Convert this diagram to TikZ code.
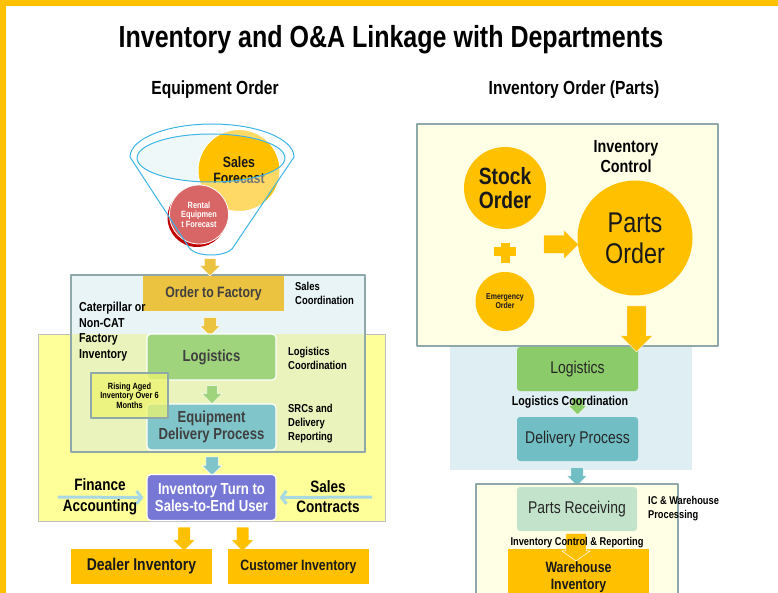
\documentclass[tikz,border=0pt]{standalone}
\usepackage{fontspec}
\setmainfont{Liberation Sans}[FakeStretch=0.82]
\usetikzlibrary{shapes.arrows,arrows.meta,positioning}
\definecolor{gold}{HTML}{FFC000}
\definecolor{ordgold}{HTML}{EBC340}
\definecolor{lgreen}{HTML}{9FD37C}
\definecolor{tealL}{HTML}{7FC5CA}
\definecolor{purp}{HTML}{7777D5}
\definecolor{framegray}{HTML}{8FA9AB}
\definecolor{cyanbg}{HTML}{E8F4F5}
\definecolor{ylwbg}{HTML}{FFFF99}
\definecolor{limebg}{HTML}{EAF3BC}
\definecolor{agedbg}{HTML}{EEF46E}
\definecolor{paleyl}{HTML}{FFFFE6}
\definecolor{paleblue}{HTML}{DEEEF2}
\definecolor{rgreen}{HTML}{8CCB69}
\definecolor{rteal}{HTML}{71BFC5}
\definecolor{mint}{HTML}{C3E3CB}
\definecolor{funnelblue}{HTML}{3DB5E6}
\definecolor{funnelin}{HTML}{EEF8F9}
\definecolor{rentred}{HTML}{D96666}
\definecolor{darkred}{HTML}{C00000}
\definecolor{finblue}{HTML}{A8D8E2}
\definecolor{boxtext}{HTML}{404040}
\newcommand{\fsz}[2]{\fontsize{#1}{#2}\selectfont}
\newcommand{\funnelpath}{(130,157) arc[start angle=180,end angle=360,x radius=82,y radius=33] -- (232,249) .. controls (224,257) and (198,257) .. (190,249) -- cycle}
\begin{document}
\begin{tikzpicture}[x=1pt,y=-1pt,line join=round]
	\tikzset{lbl/.style={inner sep=0pt,align=center},
		note/.style={inner sep=0pt,anchor=west,align=left,font=\fsz{11.5}{14}\bfseries},
		box/.style={rectangle,inner sep=0pt,text=boxtext,font=\fsz{15}{17}\bfseries,minimum width=141,minimum height=35,align=center},
		rbox/.style={rectangle,rounded corners=4pt,draw=white,line width=1.2pt,inner sep=0pt,minimum width=129,minimum height=46,text=boxtext,font=\fsz{16}{17}\bfseries,align=center},
		rrbox/.style={rectangle,rounded corners=3pt,inner sep=0pt,minimum width=121,minimum height=44,text=black!85,font=\fsz{17}{20}},
		disc/.style={circle,fill=gold,inner sep=0pt,align=center,text=black!90},
		side/.style={inner sep=0pt,align=center,font=\fsz{16.5}{20.7}\bfseries},
		blk/.style args={#1/#2/#3}{single arrow,draw=white,line width=0.5pt,inner sep={#3*0.5},minimum height=#1,minimum width=#2,single arrow head extend={(#2-#3)*0.5},shape border rotate=270},
		inarrow/.style={finblue,line width=3pt,-{Straight Barb[length=5pt,width=13pt]},shorten >=3pt}}
	\useasboundingbox (0,0) rectangle (778,593);
	\fill[white] (0,0) rectangle (778,593);
	\fill[gold] (0,0) rectangle (778,6);
	\fill[gold] (0,0) rectangle (6,593);
	\node[lbl,anchor=base,font=\fsz{30.5}{36}\bfseries] (ttl) at (391,47.7) {Inventory and O\&A Linkage with Departments};
	\node[lbl,anchor=base,font=\fsz{19}{22}\bfseries] (subL) at (215,95) {Equipment Order};
	\node[lbl,anchor=base,font=\fsz{19}{22}\bfseries] (subR) at (574,95) {Inventory Order (Parts)};
	% funnel
	\fill[funnelin] (211,158) ellipse[x radius=74,y radius=24];
	\node[disc,draw=white,line width=1pt,minimum size=82,font=\fsz{15}{16}\bfseries] (salesfc) at (239,170.5) {Sales\\Forecast};
	\fill[white,fill opacity=0.4,even odd rule] \funnelpath (211,158) ellipse[x radius=74,y radius=24];
	\fill[darkred] (197,217.5) circle[radius=29.5];
	\node[circle,fill=rentred,draw=white,line width=0.8pt,minimum size=59,inner sep=0pt,align=center,text=white,font=\fsz{9}{9.5}\bfseries] (rentfc) at (199,214.5) {Rental\\Equipmen\\t Forecast};
	\draw[funnelblue,line width=1pt] \funnelpath;
	\draw[funnelblue,line width=1pt] (211,158) ellipse[x radius=74,y radius=24];
	% left zones
	\fill[cyanbg] (71,275) rectangle (365,452);
	\draw[fill=ylwbg,draw=black!25,line width=1pt] (38,334) rectangle (385,521);
	\fill[limebg] (71,334) rectangle (365,452);
	\draw[framegray,line width=2pt] (71,275) rectangle (365,452);
	\node[blk=15/20/11,fill=ordgold] (a1) at (210,264.5) {};
	\node[box,fill=ordgold] (order) at (213.5,293.5) {Order to Factory};
	\node[note] (salesco) at (295,293) {Sales\\Coordination};
	\node[lbl,anchor=west,align=left,font=\fsz{13}{15.7}\bfseries] (catl) at (79,331.5) {Caterpillar or\\Non-CAT\\Factory\\Inventory};
	\node[blk=17/20/12,fill=ordgold] (a2) at (210,323.5) {};
	\node[rbox,fill=lgreen] (logL) at (211.5,357) {Logistics};
	\node[note,font=\fsz{11.5}{13.5}\bfseries] (logco) at (288,358.4) {Logistics\\Coordination};
	\node[blk=18/20/10,fill=lgreen] (a3) at (212,392) {};
	\node[rbox,fill=tealL] (delivL) at (211.5,427) {Equipment\\Delivery Process};
	\node[note] (srcs) at (288,424) {SRCs and\\Delivery\\Reporting};
	\node[draw=framegray,line width=2pt,fill=agedbg,fill opacity=0.75,text opacity=1,minimum width=77,minimum height=45,inner sep=0pt,align=center,font=\fsz{9}{9.5}\bfseries] (aged) at (129.5,395.5) {Rising Aged\\Inventory Over 6\\Months};
	\node[blk=18/20/12,fill=tealL] (a4) at (212,463) {};
	\node[rbox,fill=purp,text=white] (turn) at (211.5,497.5) {Inventory Turn to\\Sales-to-End User};
	\coordinate (finL) at (58,497);
	\coordinate (salesR) at (372,497);
	\draw[inarrow] (finL) -- (turn.west);
	\draw[inarrow] (salesR) -- (turn.east);
	\node[side] (fin) at (100,496.7) {Finance\\Accounting};
	\node[side] (salesct) at (328,496.7) {Sales\\Contracts};
	\node[blk=24/22/12,fill=gold] (a5) at (184,536) {};
	\node[blk=24/22/12,fill=gold] (a6) at (242.5,536) {};
	\node[box,fill=gold,text=black!90,font=\fsz{17}{20}\bfseries] (dealer) at (141.5,566.5) {Dealer Inventory};
	\node[box,fill=gold,text=black!90] (cust) at (298.5,566.5) {Customer Inventory};
	% parts side
	\fill[paleblue] (450,330) rectangle (692,470);
	\draw[framegray,line width=2.5pt,fill=paleyl] (417,124) rectangle (718,346);
	\node[disc,minimum size=82,font=\fsz{23.5}{24.7}\bfseries] (stock) at (505,188) {Stock\\Order};
	\fill[gold] (494,247.5) rectangle (516,256.5);
	\fill[gold] (500.5,243) rectangle (509.5,263);
	\node[disc,minimum size=59,font=\fsz{8.5}{9}\bfseries] (emerg) at (505,301.5) {Emergency\\Order};
	\node[blk=35/29/18,fill=gold,shape border rotate=0] (a7) at (556.5,244.5) {};
	\node[disc,minimum size=115,font=\fsz{28.5}{31}] (parts) at (635,238) {Parts\\Order};
	\node[lbl,font=\fsz{17.5}{20}\bfseries] (invctl) at (626,157) {Inventory\\Control};
	\node[rrbox,fill=rgreen] (logR) at (577.5,369) {Logistics};
	\node[blk=46/32/19,fill=gold] (a8) at (636.5,324) {};
	\node[blk=17/19/11,fill=rgreen] (a9) at (577.5,403.5) {};
	\node[lbl,anchor=base,font=\fsz{13}{15}\bfseries] (logcoR) at (570,405.5) {Logistics Coordination};
	\node[rrbox,fill=rteal] (delivR) at (577.5,439) {Delivery Process};
	\node[blk=17/20/12,fill=rteal] (a10) at (577,473.5) {};
	\draw[framegray,line width=2pt,fill=paleyl] (476,484) rectangle (678,610);
	\node[rrbox,fill=mint,minimum width=120] (recv) at (577,509) {Parts Receiving};
	\node[note,font=\fsz{11.3}{14}\bfseries] (icwh) at (648,509) {IC \& Warehouse\\Processing};
	\node[box,fill=gold,text=black!90,minimum height=56,font=\fsz{15}{17}\bfseries] (wareh) at (578.5,577) {Warehouse\\Inventory};
	\node[blk=25/28/20,fill=gold,single arrow tip angle=110] (a11) at (576,543.5) {};
	\node[lbl,anchor=base,font=\fsz{11.3}{13}\bfseries] (icrep) at (577,545) {Inventory Control \& Reporting};
\end{tikzpicture}
\end{document}
